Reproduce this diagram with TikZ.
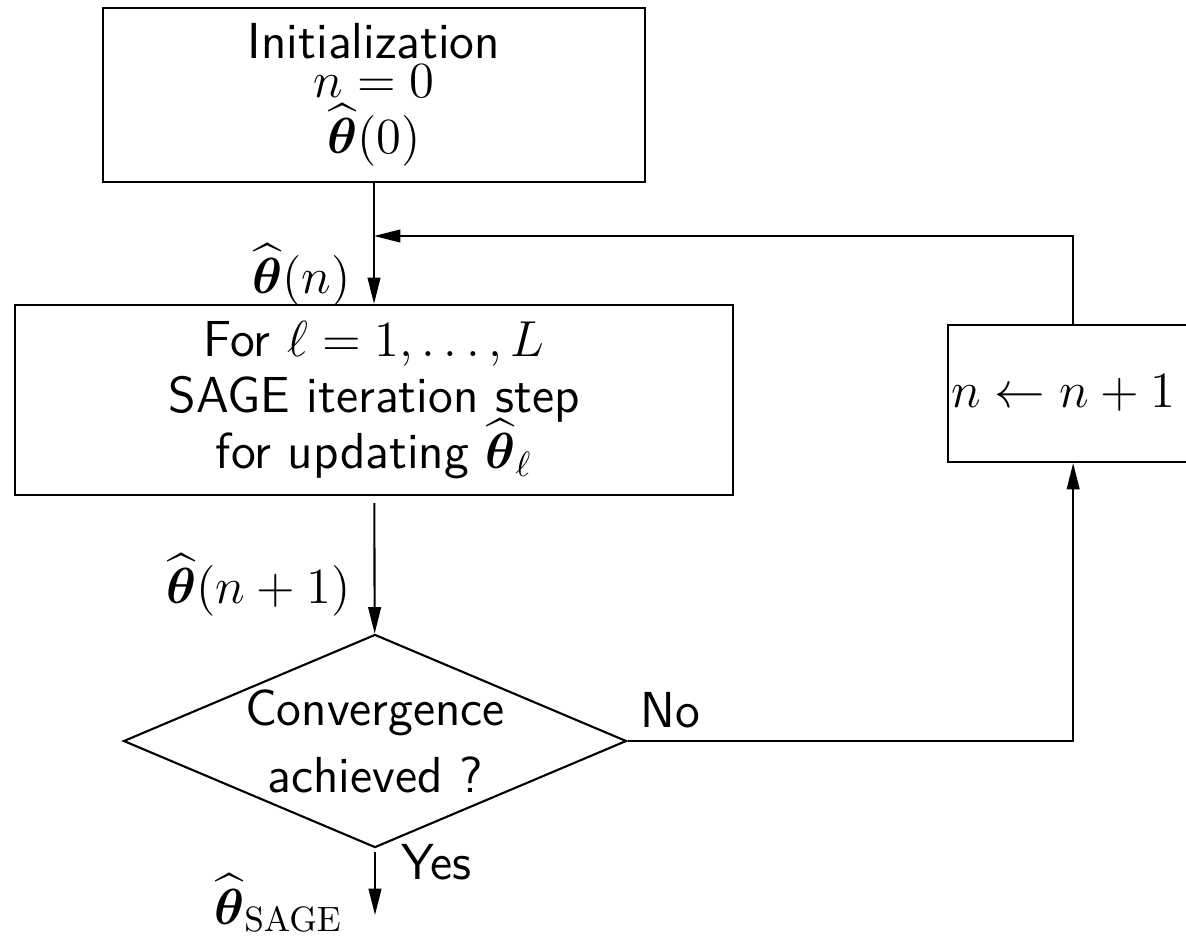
\documentclass[tikz,border=0pt]{standalone}
\usepackage{amsmath}
\usetikzlibrary{arrows.meta, positioning, shapes.geometric}
\tikzset{
  every picture/.style={font=\sffamily\Large, line width=0.6pt},
  blk/.style={draw, rectangle, align=center, inner sep=2pt},
  decide/.style={draw, diamond, aspect=2.36, align=center, inner sep=0pt},
  arrow/.style={-{Triangle[length=7.5pt, width=3.6pt]}},
  lbl/.style={inner sep=3.5pt},
}
\newcommand{\thhat}{\widehat{\boldsymbol{\theta}}}

\begin{document}
\begin{tikzpicture}[x=0.01cm, y=-0.01cm]
  \useasboundingbox (0,0) rectangle (1186,940);
  % blocks
  \node[blk, minimum width=5.41cm, minimum height=1.74cm] (init) at (374,95)
    {Initialization\\[-7pt] $n=0$\\[-2pt] $\thhat(0)$};
  \node[blk, minimum width=7.17cm, minimum height=1.90cm] (iter) at (374,400)
    {For $\ell=1,\ldots,L$\\[-2pt] SAGE iteration step\\[-2pt] for updating $\thhat_\ell$};
  \node[decide, minimum width=4.90cm, minimum height=2.08cm] (conv) at (375,741)
    {Convergence\\[1pt] achieved ?};
  \node[blk, anchor=west, text width=2.44cm, align=left, inner xsep=0.03cm,
    minimum height=1.37cm] (upd) at (947,393.5) {$n\leftarrow n+1$};
  \coordinate (join) at (374,236);
  \coordinate (out) at (375,915);
  % connectors
  \draw[arrow] (init) -- (iter);
  \draw[arrow, shorten <=2pt] (iter) -- (conv);
  \draw[arrow, shorten <=1pt] (conv) -- (out);
  \draw[arrow] (conv) -| (upd);
  \draw[arrow] (upd.north) |- (join);
  % labels
  \node[lbl, anchor=east] (ln) at (364,275) {$\thhat(n)$};
  \node[lbl, anchor=east] (ln1) at (364,585) {$\thhat(n+1)$};
  \node[lbl, anchor=south west] (no) at (conv.east) {No};
  \node[lbl, anchor=west] (yes) at (388,862) {Yes};
  \node[lbl, anchor=east] (res) at (356,903) {$\thhat_{\mathrm{SAGE}}$};
\end{tikzpicture}
\end{document}
